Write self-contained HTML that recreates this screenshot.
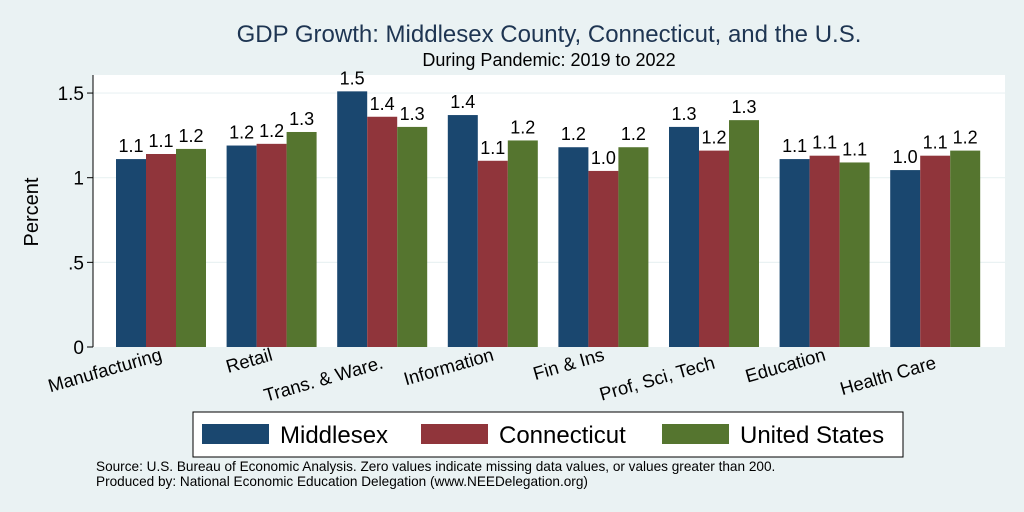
<!DOCTYPE html>
<html><head><meta charset="utf-8"><style>
body{margin:0;background:#eaf2f3;}
svg{display:block;font-family:"Liberation Sans",Arial,sans-serif;}
</style></head><body>
<svg id="c" width="1024" height="512" viewBox="0 0 1024 512">
<rect x="0" y="0" width="1024" height="512" fill="#eaf2f3"/>
<text x="549" y="42" text-anchor="middle" font-size="24" fill="#1e3552">GDP Growth: Middlesex County, Connecticut, and the U.S.</text>
<text x="549" y="66" text-anchor="middle" font-size="18" fill="#000">During Pandemic: 2019 to 2022</text>
<rect x="93" y="75" width="912" height="272" fill="#fff"/>
<g id="grid"></g><g id="bars"></g><g id="axes"></g>
<text transform="translate(38,212) rotate(-90)" text-anchor="middle" font-size="20">Percent</text>
<g>
<rect x="193" y="412" width="710" height="45" fill="#fff" stroke="#000" stroke-width="1"/>
<rect x="202" y="424" width="67" height="20" fill="#1a476f"/>
<text x="280" y="443" font-size="24">Middlesex</text>
<rect x="421" y="424" width="67" height="20" fill="#90353b"/>
<text x="499" y="443" font-size="24">Connecticut</text>
<rect x="662" y="424" width="67" height="20" fill="#55752f"/>
<text x="740" y="443" font-size="24">United States</text>
</g>
<text x="96" y="471" font-size="13.6">Source: U.S. Bureau of Economic Analysis. Zero values indicate missing data values, or values greater than 200.</text>
<text x="96" y="486" font-size="13.6">Produced by: National Economic Education Delegation (www.NEEDelegation.org)</text>
</svg>
<script>
const categories=["Manufacturing","Retail","Trans. & Ware.","Information","Fin & Ins","Prof, Sci, Tech","Education","Health Care"];
const middlesex=[1.11,1.19,1.51,1.37,1.18,1.30,1.11,1.045];
const connecticut=[1.14,1.20,1.36,1.10,1.04,1.16,1.13,1.13];
const unitedStates=[1.17,1.27,1.30,1.22,1.18,1.34,1.09,1.16];
const yTicks=[0,0.5,1,1.5];
const yTickLabels=["0",".5","1","1.5"];
const NS="http://www.w3.org/2000/svg";
const y0=347,pxPerUnit=169.3;
function yS(v){return y0-v*pxPerUnit;}
function xS(i){return 116+i*110.6;}
const barW=30;
function mk(tag,attrs,parent,txt){const e=document.createElementNS(NS,tag);for(const k in attrs)e.setAttribute(k,attrs[k]);if(txt!==undefined)e.textContent=txt;parent.appendChild(e);return e;}
const grid=document.getElementById('grid'),bars=document.getElementById('bars'),axes=document.getElementById('axes');
yTicks.forEach((t,i)=>{
  if(t>0){const g=mk('line',{x1:93,x2:1005,y1:yS(t),y2:yS(t),stroke:'#eaf2f3','stroke-width':1.2},grid);
  
  }
  const tk=mk('line',{x1:87,x2:93,y1:yS(t),y2:yS(t),stroke:'#000'},axes);
  
  
  const tl=mk('text',{x:84,y:yS(t)+7,'text-anchor':'end','font-size':19},axes,yTickLabels[i]);
  
  
});
const ax=mk('line',{x1:93,x2:93,y1:75,y2:347,stroke:'#000'},axes);


const series=[middlesex,connecticut,unitedStates];
const colors=["#1a476f","#90353b","#55752f"];
const sNames=["middlesex","connecticut","us"];
const labelDy=[0,0,8,0,0,8,0,8];
categories.forEach((c,i)=>{
  series.forEach((s,j)=>{
    const x=xS(i)+j*barW,v=s[i];
    const r=mk('rect',{x:x,y:yS(v),width:barW,height:y0-yS(v),fill:colors[j]},bars);
    
    
    const t=mk('text',{x:x+barW/2,y:yS(v)-7,'text-anchor':'middle','font-size':18},bars,v.toFixed(1));
    
    
  });
  const cx=xS(i)+47,cy=360+labelDy[i];
  const cl=mk('text',{x:cx,y:cy,'text-anchor':'end','font-size':18.5,transform:'rotate(-16 '+cx+' '+cy+')'},axes,c);
  
  
});
</script>
</body></html>
